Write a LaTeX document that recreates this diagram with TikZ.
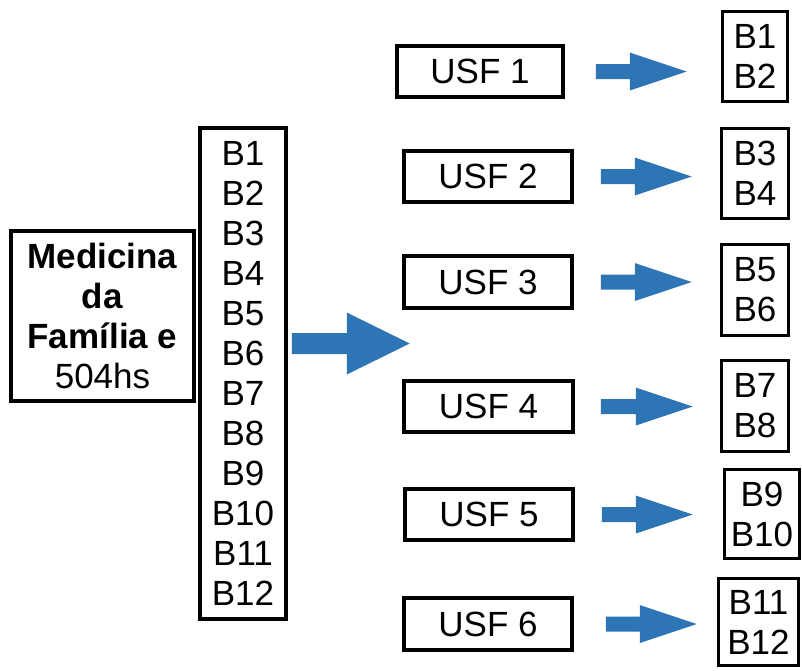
\documentclass[tikz,border=0pt]{standalone}
\usepackage{fontspec}
\setmainfont{Liberation Sans}
\usetikzlibrary{calc}
\definecolor{arrowblue}{RGB}{46,117,182}
\tikzset{
  box/.style={draw=black, line width=3.5pt, fill=white, inner sep=0pt, align=center,
    font=\fontsize{35}{40}\selectfont},
}
% #1 start coordinate, #2 tip coordinate, #3 shaft half width, #4 head half width, #5 head length
\newcommand\blarrow[5]{%
  \fill[arrowblue] ($(#1)+(0,-#3)$) -- ($(#2)+(-#5,-#3)$) -- ($(#2)+(-#5,-#4)$) -- (#2)
    -- ($(#2)+(-#5,#4)$) -- ($(#2)+(-#5,#3)$) -- ($(#1)+(0,#3)$) -- cycle;}
\begin{document}
\begin{tikzpicture}[x=1pt,y=-1pt]
\useasboundingbox (0,0) rectangle (802,670);
% left boxes
\node[box, minimum width=183pt, minimum height=170pt] (med) at (102.5,316)
  {\textbf{Medicina}\\\textbf{da}\\\textbf{Família e}\\504hs};
\node[box, minimum width=86pt, minimum height=491pt] (bcol) at (243,373.5)
  {B1\\B2\\B3\\B4\\B5\\B6\\B7\\B8\\B9\\B10\\B11\\B12};
% USF boxes
\node[box, minimum width=166pt, minimum height=51pt] (u1) at (480,71.5) {USF 1};
\node[box, minimum width=168pt, minimum height=51pt] (u2) at (488,176.5) {USF 2};
\node[box, minimum width=168pt, minimum height=52pt] (u3) at (488,282) {USF 3};
\node[box, minimum width=169pt, minimum height=51pt] (u4) at (488.5,406.5) {USF 4};
\node[box, minimum width=168pt, minimum height=51pt] (u5) at (489,514.5) {USF 5};
\node[box, minimum width=168pt, minimum height=52pt] (u6) at (488,624) {USF 6};
% right boxes
\node[box, minimum width=65pt, minimum height=90pt] (r1) at (755,56.5) {B1\\B2};
\node[box, minimum width=67pt, minimum height=90pt] (r2) at (755,173.5) {B3\\B4};
\node[box, minimum width=67pt, minimum height=91pt] (r3) at (755,290) {B5\\B6};
\node[box, minimum width=67pt, minimum height=91pt] (r4) at (755,406) {B7\\B8};
\node[box, minimum width=75pt, minimum height=89pt] (r5) at (762,514) {B9\\B10};
\node[box, minimum width=80pt, minimum height=87pt] (r6) at (758.5,622) {B11\\B12};
% big arrow
\path (bcol.east |- 0,343.5) ++(4,0) coordinate (bs);
\path (bs) ++(118,0) coordinate (bt);
\blarrow{bs}{bt}{10.5}{31}{63}
% small arrows
\foreach \i/\a/\b in {1/31/34, 2/27/28, 3/27/28, 4/26/27, 5/27/30, 6/32/20}{
  \path (u\i.east) ++(\a,0) coordinate (s\i);
  \path (u\i.east -| r\i.west) ++(-\b,0) coordinate (t\i);
  \blarrow{s\i}{t\i}{7.5}{19}{57}
}
\end{tikzpicture}
\end{document}
